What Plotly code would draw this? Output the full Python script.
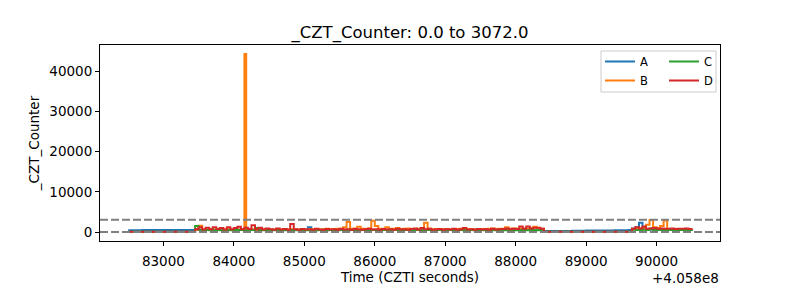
import plotly.graph_objects as go

# ---------------- data (time relative to offset, seconds) ----------------
TIME_OFFSET = 4.058e8
OFFSET_LABEL = "+4.058e8"
THRESH_LOW = 0.0
THRESH_HIGH = 3072.0
QUADRANTS = ["A", "B", "C", "D"]
COLORS = ["#1f77b4", "#ff7f0e", "#2ca02c", "#d62728"]
X_TICKS = [83000, 84000, 85000, 86000, 87000, 88000, 89000, 90000]
Y_TICKS = [0, 10000, 20000, 30000, 40000]

# segment 0: quiet start
t_seg0 = [82500, 82700, 82900, 83100, 83300, 83400]
# segment 1: active part
t_seg1 = [83450, 83500, 83550, 83600, 83650, 83700, 83750, 83800, 83850, 83900,
          83950, 84000, 84050, 84100, 84150, 84175, 84200, 84250, 84300, 84350, 84400,
          84450, 84500, 84550, 84600, 84650, 84700, 84750, 84800, 84850, 84900,
          84950, 85000, 85050, 85100, 85150, 85200, 85250, 85300, 85350, 85400,
          85450, 85500, 85550, 85600, 85650, 85700, 85750, 85800, 85850, 85900,
          85950, 86000, 86050, 86100, 86150, 86200, 86250, 86300, 86350, 86400,
          86450, 86500, 86550, 86600, 86650, 86700, 86750, 86800, 86850, 86900,
          86950, 87000, 87050, 87100, 87150, 87200, 87250, 87300, 87350, 87400,
          87450, 87500, 87550, 87600, 87650, 87700, 87750, 87800, 87850, 87900,
          87950, 88000, 88050, 88100, 88150, 88200, 88250, 88300, 88350]
# segment 2: quiet gap
t_seg2 = [88400, 88600, 88800, 89000, 89200, 89400, 89600]
# segment 3: active end
t_seg3 = [89650, 89700, 89750, 89800, 89850, 89900, 89950, 90000, 90050, 90100,
          90150, 90200, 90250, 90300, 90350, 90400, 90450, 90500]

A_seg0 = [480, 490, 500, 500, 510, 520]
B_seg0 = [20, 20, 20, 20, 20, 20]
C_seg0 = [100, 100, 100, 100, 100, 100]
D_seg0 = [80, 80, 80, 80, 80, 80]

A_seg1 = [650, 600, 550, 600, 500, 550, 600, 500, 550, 600,
          500, 550, 600, 550, 500, 550, 600, 550, 500, 600, 550,
          500, 550, 600, 500, 550, 600, 550, 500, 600, 550,
          500, 600, 1200, 550, 600, 500, 550, 600, 550, 500,
          600, 550, 500, 600, 550, 500, 600, 550, 500, 600,
          550, 500, 600, 550, 500, 600, 550, 500, 600, 550,
          500, 600, 550, 500, 600, 550, 500, 600, 550, 500,
          600, 550, 500, 600, 550, 500, 600, 550, 500, 600,
          550, 500, 600, 550, 500, 600, 550, 500, 600, 550,
          500, 600, 550, 500, 600, 550, 500, 600, 550]
B_seg1 = [600, 1600, 700, 650, 750, 600, 700, 900, 650, 700,
          600, 750, 650, 700, 44300, 650, 650, 700, 600, 750, 650,
          700, 600, 650, 700, 600, 750, 650, 700, 600, 650,
          700, 600, 650, 700, 750, 650, 700, 800, 700, 750,
          800, 750, 1200, 2500, 800, 900, 1300, 800, 750, 900,
          2800, 1500, 800, 850, 1200, 800, 850, 1000, 750, 800,
          900, 750, 700, 800, 750, 2300, 800, 700, 750, 650,
          700, 750, 650, 700, 750, 800, 850, 700, 750, 650,
          700, 750, 700, 800, 900, 750, 850, 800, 1200, 850,
          900, 800, 850, 900, 800, 950, 1300, 900, 800]
C_seg1 = [1500, 600, 500, 550, 450, 500, 550, 450, 500, 550,
          450, 500, 550, 500, 450, 450, 550, 500, 1000, 500, 450,
          550, 500, 450, 500, 550, 450, 500, 550, 450, 500,
          550, 450, 500, 550, 450, 500, 550, 450, 500, 550,
          450, 500, 550, 450, 500, 550, 450, 500, 550, 450,
          500, 550, 450, 500, 550, 450, 500, 550, 450, 500,
          550, 450, 500, 550, 450, 500, 550, 450, 500, 550,
          450, 500, 550, 450, 500, 550, 450, 500, 550, 450,
          500, 550, 450, 500, 550, 450, 500, 550, 450, 500,
          550, 450, 500, 550, 450, 500, 550, 450, 500]
D_seg1 = [700, 1200, 650, 1100, 700, 1200, 750, 1000, 650, 1200,
          700, 1000, 1300, 700, 1100, 1100, 750, 1700, 700, 1100, 650,
          900, 700, 600, 900, 650, 750, 600, 2000, 700, 600,
          750, 650, 700, 600, 800, 650, 600, 750, 650, 700,
          600, 800, 650, 700, 600, 750, 650, 600, 700, 800,
          650, 700, 600, 750, 650, 700, 600, 800, 650, 700,
          600, 750, 900, 650, 1000, 700, 800, 600, 650, 750,
          600, 700, 650, 800, 600, 700, 1000, 650, 700, 600,
          750, 650, 700, 600, 800, 650, 700, 750, 900, 700,
          800, 750, 1400, 800, 1400, 900, 1100, 1100, 800]

A_seg2 = [250, 300, 340, 380, 420, 460, 500]
B_seg2 = [20, 20, 20, 20, 20, 20, 20]
C_seg2 = [100, 100, 100, 100, 100, 100, 100]
D_seg2 = [80, 80, 80, 80, 80, 80, 80]

A_seg3 = [900, 1200, 2300, 900, 700, 650, 600, 700, 650, 600, 650, 600, 650, 600, 650, 600, 650, 600]
B_seg3 = [700, 800, 900, 1100, 1800, 3000, 1200, 1000, 1500, 2900, 700, 650, 700, 650, 700, 650, 700, 650]
C_seg3 = [600, 550, 500, 600, 550, 900, 500, 550, 500, 550, 500, 550, 500, 550, 500, 550, 500, 550]
D_seg3 = [800, 1200, 900, 1400, 800, 900, 1000, 800, 900, 850, 800, 900, 750, 850, 800, 900, 750, 800]

# ---------------- assemble ----------------
TIME = t_seg0 + t_seg1 + t_seg2 + t_seg3
SERIES = {
    "A": A_seg0 + A_seg1 + A_seg2 + A_seg3,
    "B": B_seg0 + B_seg1 + B_seg2 + B_seg3,
    "C": C_seg0 + C_seg1 + C_seg2 + C_seg3,
    "D": D_seg0 + D_seg1 + D_seg2 + D_seg3,
}

FONT = "DejaVu Sans"
ML, MR, MT, MB = 100, 80, 45, 59
W, H = 800, 300
PW, PH = W - ML - MR, H - MT - MB


def px_x(p):
    return (p - ML) / PW


def px_y(p):
    return 1 - (p - MT) / PH


fig = go.Figure()
# first legend column holds A, B; second holds C, D
legend_of = {"A": "legend", "B": "legend", "C": "legend2", "D": "legend2"}
for name, col in zip(QUADRANTS, COLORS):
    fig.add_trace(go.Scatter(
        x=TIME, y=SERIES[name], mode="lines", name=name,
        line=dict(color=col, width=2, shape="hv"),
        legend=legend_of[name],
    ))

for level in (THRESH_LOW, THRESH_HIGH):
    fig.add_shape(type="line", xref="paper", x0=0, x1=1, yref="y", y0=level, y1=level,
                  line=dict(color="#808080", width=2, dash="8px,3px"), layer="above")

# legend frame
fig.add_shape(type="rect", xref="paper", yref="paper",
              x0=px_x(601), x1=px_x(716), y0=px_y(92), y1=px_y(51),
              line=dict(color="#cccccc", width=1), fillcolor="rgba(255,255,255,0.8)",
              layer="above")

tmin, tmax = min(TIME), max(TIME)
allv = [v for s in SERIES.values() for v in s]
vmin, vmax = min(allv + [THRESH_LOW]), max(allv)
xpad = 0.05 * (tmax - tmin)
ypad = 0.05 * (vmax - vmin)

axis_common = dict(showline=True, linecolor="black", linewidth=1, mirror=True,
                   ticks="outside", ticklen=4, tickwidth=1, tickcolor="black",
                   showgrid=False, zeroline=False,
                   tickfont=dict(family=FONT, size=13.5, color="black"))

legend_common = dict(orientation="v", yanchor="top", xanchor="left",
                     itemwidth=30, bgcolor="rgba(0,0,0,0)", borderwidth=0,
                     font=dict(family=FONT, size=11.5, color="black"),
                     tracegroupgap=0)

fig.update_layout(
    width=W, height=H,
    margin=dict(l=ML, r=MR, t=MT, b=MB),
    paper_bgcolor="white", plot_bgcolor="white",
    font=dict(family=FONT, color="black"),
    title=dict(text=f"_CZT_Counter: {THRESH_LOW} to {THRESH_HIGH}",
               x=0.5, xref="paper", xanchor="center",
               y=1, yref="paper", yanchor="bottom", pad=dict(b=7),
               font=dict(family=FONT, size=16.5, color="black")),
    xaxis=dict(range=[tmin - xpad, tmax + xpad], tickvals=X_TICKS,
               ticktext=[str(v) for v in X_TICKS], ticklabelstandoff=4,
               title=dict(text="Time (CZTI seconds)", standoff=2,
                          font=dict(family=FONT, size=13.5)),
               **axis_common),
    yaxis=dict(range=[vmin - ypad, vmax + ypad], tickvals=Y_TICKS,
               ticktext=[str(v) for v in Y_TICKS],
               title=dict(text="_CZT_Counter", standoff=6,
                          font=dict(family=FONT, size=13.5)),
               **axis_common),
    showlegend=True,
    legend=dict(x=px_x(600), y=px_y(47), **legend_common),
    legend2=dict(x=px_x(664), y=px_y(47), **legend_common),
    annotations=[dict(text=OFFSET_LABEL, xref="paper", yref="paper", x=1, y=px_y(278),
                      xanchor="right", yanchor="middle", showarrow=False, borderpad=0,
                      font=dict(family=FONT, size=13.5, color="black"))],
)

fig.write_html("out.html")
